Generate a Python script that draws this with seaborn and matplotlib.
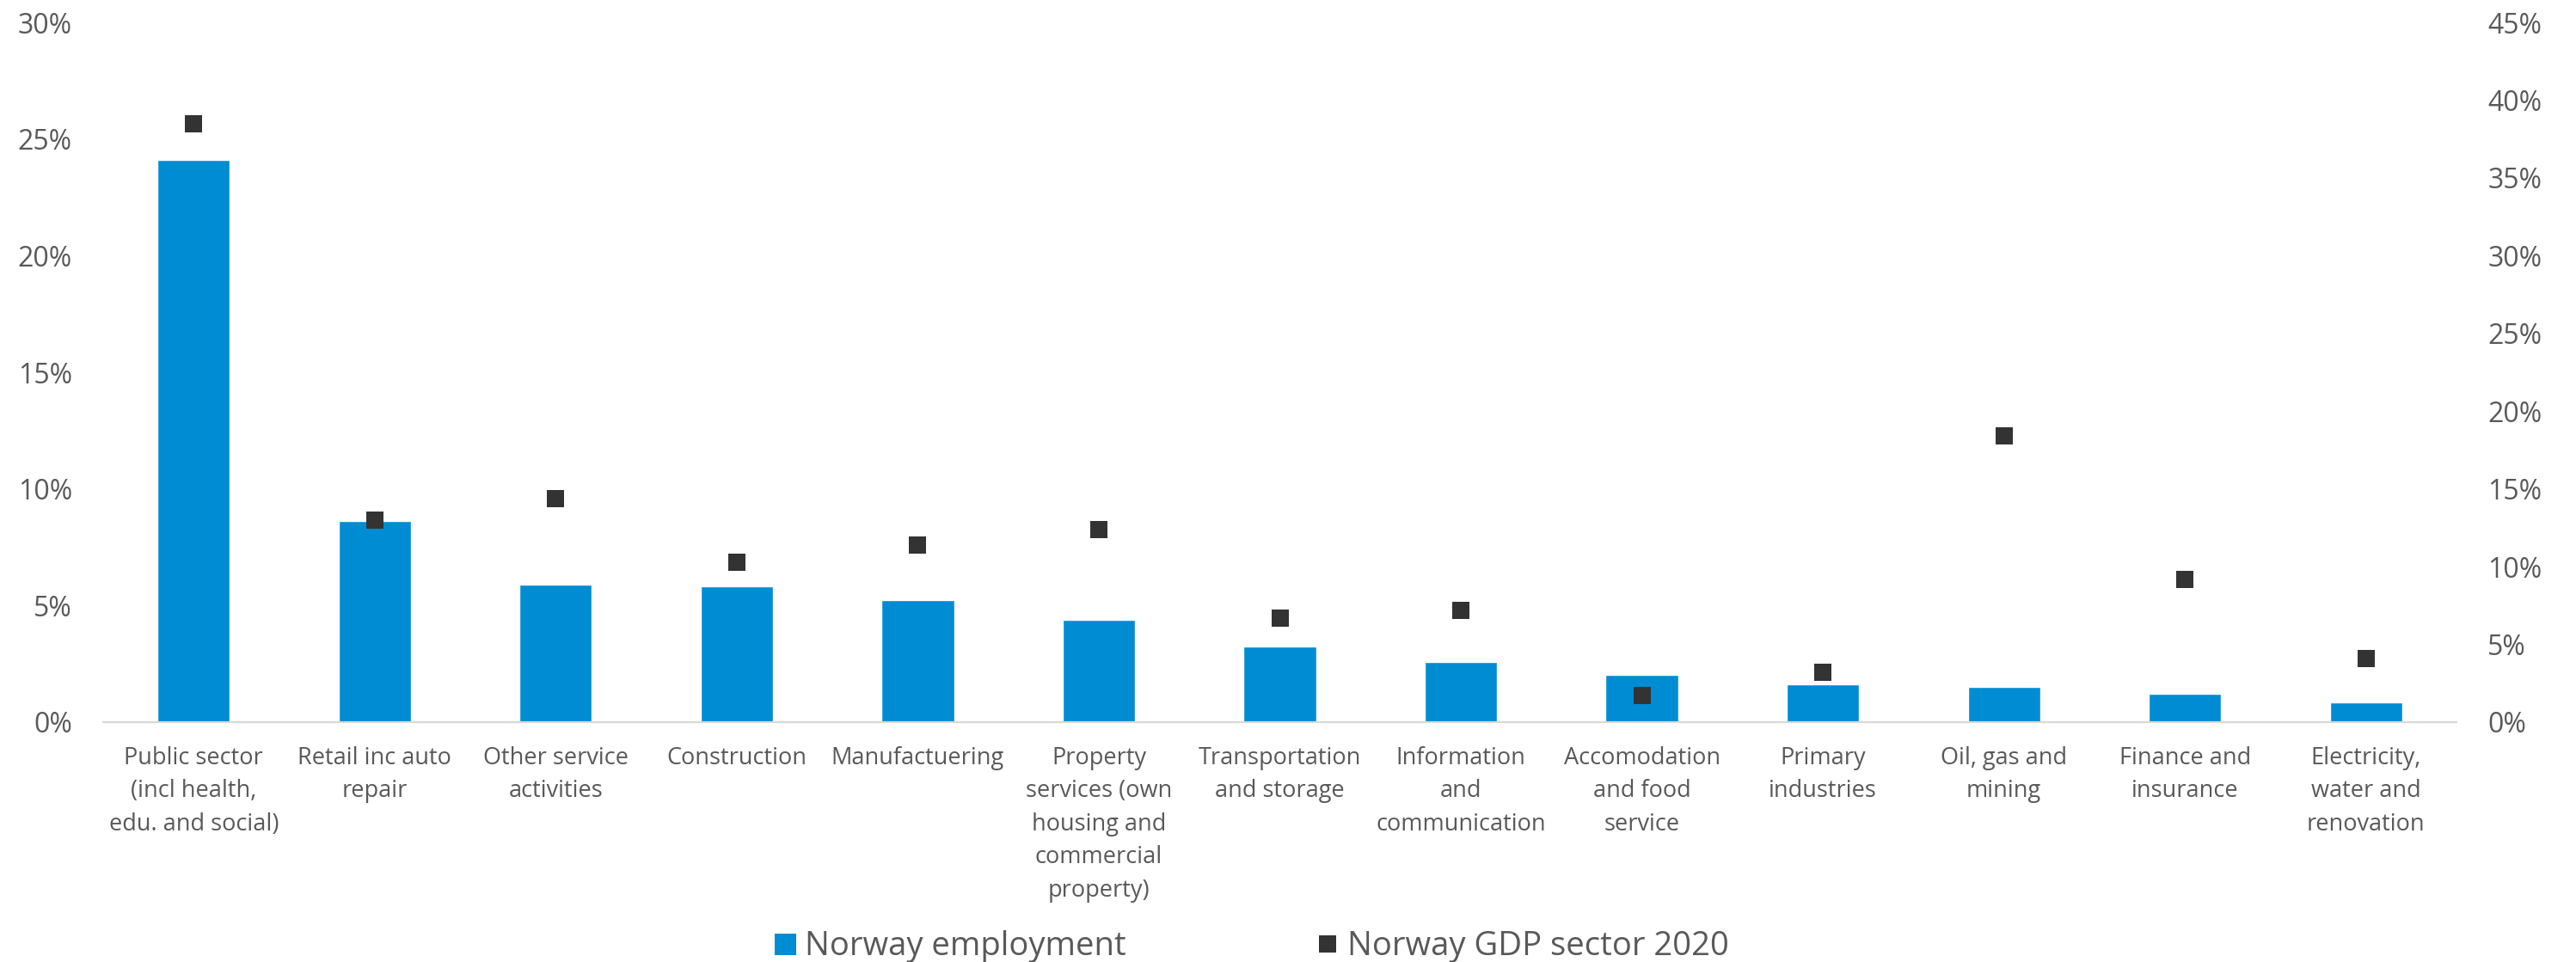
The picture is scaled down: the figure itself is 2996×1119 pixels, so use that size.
import matplotlib
matplotlib.use("Agg")
import matplotlib.pyplot as plt
from matplotlib.lines import Line2D
from matplotlib.ticker import PercentFormatter, MultipleLocator
import seaborn as sns
import pandas as pd

categories = [
    "Public sector\n(incl health,\nedu. and social)",
    "Retail inc auto\nrepair",
    "Other service\nactivities",
    "Construction",
    "Manufactuering",
    "Property\nservices (own\nhousing and\ncommercial\nproperty)",
    "Transportation\nand storage",
    "Information\nand\ncommunication",
    "Accomodation\nand food\nservice",
    "Primary\nindustries",
    "Oil, gas and\nmining",
    "Finance and\ninsurance",
    "Electricity,\nwater and\nrenovation",
]
employment = [24.1, 8.62, 5.89, 5.82, 5.23, 4.38, 3.24, 2.58, 2.02, 1.63, 1.51, 1.21, 0.85]
gdp_2020 = [38.5, 13.0, 14.4, 10.3, 11.4, 12.4, 6.7, 7.2, 1.7, 3.2, 18.4, 9.2, 4.1]
series_names = ["Norway employment", "Norway GDP sector 2020"]

BAR = "#008CD3"
MARK = "#333333"
TXT = "#595959"

sns.set_theme(style="white")
plt.rcParams["font.family"] = ["Open Sans", "DejaVu Sans"]

df = pd.DataFrame({"sector": categories, "emp": employment, "gdp": gdp_2020})

fig = plt.figure(figsize=(29.96, 11.19), dpi=100)
ax = fig.add_axes([0.04005, 0.24933, 0.91356, 0.72743])
ax2 = ax.twinx()

sns.barplot(data=df, x="sector", y="emp", color=BAR, width=0.40, ax=ax,
            saturation=1, errorbar=None)
sns.pointplot(data=df, x="sector", y="gdp", color=MARK, markers="s",
              linestyle="none", markersize=15, markeredgewidth=0,
              errorbar=None, ax=ax2)

ax.set_ylim(0, 30)
ax2.set_ylim(0, 45)
ax.set_xlim(-0.5, len(categories) - 0.5)
ax.yaxis.set_major_locator(MultipleLocator(5))
ax2.yaxis.set_major_locator(MultipleLocator(5))
ax.yaxis.set_major_formatter(PercentFormatter(decimals=0))
ax2.yaxis.set_major_formatter(PercentFormatter(decimals=0))

for a in (ax, ax2):
    a.set_xlabel("")
    a.set_ylabel("")
    for s in a.spines.values():
        s.set_visible(False)
    a.grid(False)
ax.spines["bottom"].set_visible(True)
ax.spines["bottom"].set_color("#D9D9D9")
ax.spines["bottom"].set_linewidth(1.6)

ax.set_xticks(range(len(categories)))
ax.set_xticklabels(categories, fontsize=19.5, color=TXT, linespacing=1.5,
                   va="top", ha="center")
ax.tick_params(axis="x", length=0, pad=20)
ax.tick_params(axis="y", length=0, pad=26, labelsize=23, labelcolor=TXT)
ax2.tick_params(axis="y", length=0, pad=26, labelsize=23, labelcolor=TXT)

handles = [
    Line2D([], [], marker="s", color=BAR, linestyle="none", markersize=18, markeredgewidth=0),
    Line2D([], [], marker="s", color=MARK, linestyle="none", markersize=15, markeredgewidth=0),
]
leg = fig.legend(handles, series_names, loc="lower center", ncol=2,
                 bbox_to_anchor=(0.4848, -0.032), frameon=False, fontsize=27.5,
                 columnspacing=5.65, handletextpad=0.1, handlelength=1.0)
for t in leg.get_texts():
    t.set_color(TXT)

fig.savefig("out.png", dpi=100)
